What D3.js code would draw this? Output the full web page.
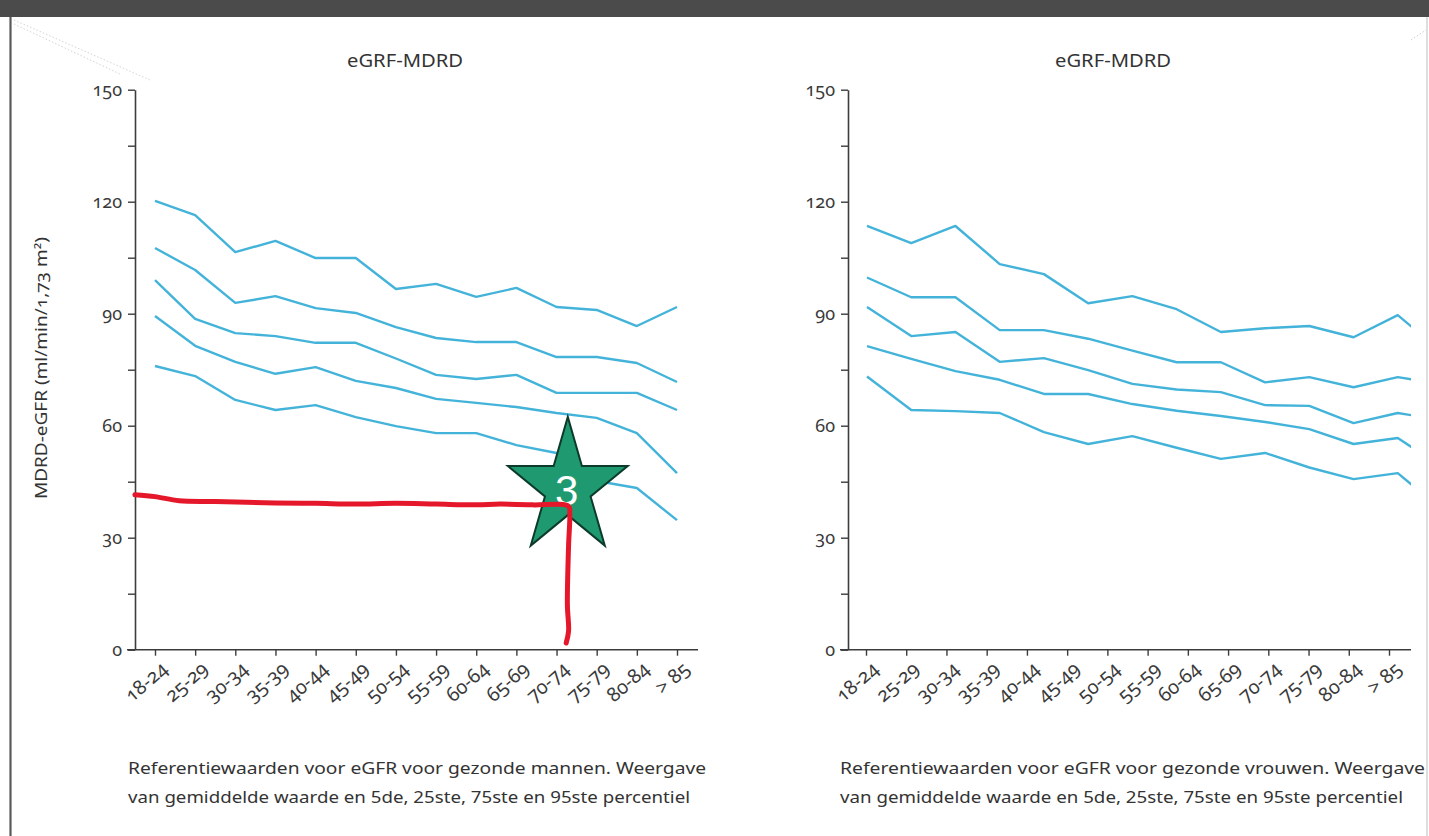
<!DOCTYPE html>
<html>
<head>
<meta charset="utf-8">
<script src="https://cdn.jsdelivr.net/npm/d3@7"></script>
<style>
  html, body { margin: 0; padding: 0; background: #fff; }
  svg { display: block; font-family: "Noto Sans", "Open Sans", sans-serif; }
  .num { font-variant-numeric: oldstyle-nums; font-feature-settings: "onum" 1; }
</style>
</head>
<body>
<svg id="chart" width="1429" height="836"></svg>
<script>
// Age groups (x categories) and y-axis ticks
const ageGroups = ["18-24","25-29","30-34","35-39","40-44","45-49","50-54",
                   "55-59","60-64","65-69","70-74","75-79","80-84","> 85"];
const yMajorTicks = [0, 30, 60, 90, 120, 150];
const yMinorTicks = [15, 45, 75, 105, 135];

// eGFR-MDRD reference values, healthy men (ml/min/1,73 m²)
const menP95  = [120.2, 116.4, 106.5, 109.5, 104.9, 104.9, 96.6, 98.0, 94.5, 96.9, 91.8, 91.0, 86.7, 91.8];
const menP75  = [107.6, 101.7, 92.9, 94.7, 91.5, 90.2, 86.4, 83.5, 82.4, 82.4, 78.4, 78.4, 76.8, 71.7];
const menMean = [99.0, 88.6, 84.8, 84.0, 82.2, 82.2, 78.0, 73.6, 72.5, 73.6, 68.8, 68.8, 68.8, 64.2];
const menP25  = [89.4, 81.4, 77.1, 73.9, 75.7, 72.0, 70.1, 67.2, 66.1, 65.0, 63.4, 62.1, 58.0, 47.3];
const menP5   = [76.0, 73.3, 66.9, 64.2, 65.5, 62.3, 59.9, 58.0, 58.0, 54.8, 52.7, 45.2, 43.3, 34.7];

// eGFR-MDRD reference values, healthy women
const womenP95  = [113.5, 108.9, 113.5, 103.3, 100.6, 92.8, 94.7, 91.2, 85.1, 86.1, 86.7, 83.7, 89.6, 79.7];
const womenP75  = [99.7, 94.4, 94.4, 85.6, 85.6, 83.3, 80.1, 77.0, 77.0, 71.6, 73.0, 70.3, 73.0, 71.1];
const womenMean = [91.8, 84.0, 85.1, 77.1, 78.1, 74.9, 71.2, 69.7, 69.0, 65.5, 65.3, 60.7, 63.4, 61.5];
const womenP25  = [81.3, 77.9, 74.6, 72.3, 68.5, 68.5, 65.8, 64.0, 62.6, 61.0, 59.1, 55.1, 56.7, 48.9];
const womenP5   = [73.2, 64.2, 63.9, 63.4, 58.3, 55.1, 57.2, 54.1, 51.1, 52.7, 48.8, 45.7, 47.3, 37.4];

// Hand-drawn reading line on the men's panel: [age index, eGFR]
const readingLine = [[-0.5, 41.5], [0, 41.0], [0.6, 39.9], [1.5, 39.7], [3, 39.3], [4, 39.2],
                     [5, 39.0], [6, 39.2], [7, 39.0], [8, 38.8], [8.6, 39.0], [9.4, 38.8],
                     [10.3, 38.4], [10.33, 36.5], [10.3, 28], [10.27, 12], [10.3, 5], [10.24, 1.8]];
const markerIndex = 10.28, markerValue = 43.3, markerLabel = "3";

const titleText = "eGRF-MDRD";
const yAxisLabel = "MDRD-eGFR (ml/min/1,73 m²)";
const captionMen = ["Referentiewaarden voor eGFR voor gezonde mannen. Weergave",
                    "van gemiddelde waarde en 5de, 25ste, 75ste en 95ste percentiel"];
const captionWomen = ["Referentiewaarden voor eGFR voor gezonde vrouwen. Weergave",
                      "van gemiddelde waarde en 5de, 25ste, 75ste en 95ste percentiel"];

const svg = d3.select("#chart");
const lineColor = "#44b3da";
const axisColor = "#3c3c3c";
const textColor = "#333";

// Page frame
svg.append("rect").attr("x", 0).attr("y", 0).attr("width", 1429).attr("height", 17).attr("fill", "#4b4b4b");
svg.append("line").attr("x1", 10.5).attr("x2", 10.5).attr("y1", 17).attr("y2", 836)
   .attr("stroke", "#5a5a5a").attr("stroke-width", 2.2);
svg.append("line").attr("x1", 1427).attr("x2", 1427).attr("y1", 17).attr("y2", 836)
   .attr("stroke", "#bdbdbd").attr("stroke-width", 1);
[[14, 20, 150, 80], [14, 24, 120, 74]].forEach(([x1, y1, x2, y2]) =>
  svg.append("line").attr("x1", x1).attr("y1", y1).attr("x2", x2).attr("y2", y2)
     .attr("stroke", "#d4d4d4").attr("stroke-width", 1).attr("stroke-dasharray", "1.5,2"));
svg.append("line").attr("x1", 1411).attr("y1", 40).attr("x2", 1426).attr("y2", 30)
   .attr("stroke", "#cfcfcf").attr("stroke-width", 1).attr("stroke-dasharray", "1.5,2");

const y = d3.scaleLinear().domain([0, 150]).range([649.7, 89.7]);

function drawPanel(cfg) {
  const g = svg.append("g");
  const xTick = d3.scalePoint().domain(ageGroups).range(cfg.tickRange);
  const xLine = d3.scalePoint().domain(ageGroups).range(cfg.lineRange);

  // Title
  g.append("text").attr("x", cfg.titleX).attr("y", 67).attr("text-anchor", "middle")
    .attr("font-size", 17.5).attr("fill", textColor)
    .attr("textLength", 116).attr("lengthAdjust", "spacingAndGlyphs").text(titleText);

  // Y axis
  const yAxis = d3.axisLeft(y)
    .tickValues(yMajorTicks.concat(yMinorTicks).sort(d3.ascending))
    .tickSize(7).tickSizeOuter(0).tickPadding(6)
    .tickFormat(d => yMajorTicks.includes(d) ? d : "");
  const ya = g.append("g").attr("transform", `translate(${cfg.axisX},0)`).call(yAxis);
  ya.attr("font-size", null).attr("font-family", null);
  ya.select(".domain").attr("stroke", axisColor).attr("stroke-width", 1.6);
  ya.selectAll(".tick line").attr("stroke", axisColor).attr("stroke-width", 1.4);
  ya.selectAll(".tick text").attr("class", "num").style("font-size", "18px")
    .style("font-family", "'Noto Sans', sans-serif").attr("fill", "#3a3a3a");

  // X baseline (extends left to meet the 0 tick)
  g.append("line").attr("x1", cfg.axisX - 8).attr("x2", cfg.axisEnd)
    .attr("y1", y(0)).attr("y2", y(0)).attr("stroke", axisColor).attr("stroke-width", 1.6);

  // X axis ticks and rotated labels
  const xAxis = d3.axisBottom(xTick).tickSize(6).tickSizeOuter(0);
  const xa = g.append("g").attr("transform", `translate(0,${y(0)})`).call(xAxis);
  xa.attr("font-size", null).attr("font-family", null);
  xa.select(".domain").remove();
  xa.selectAll(".tick line").attr("stroke", axisColor).attr("stroke-width", 1.4);
  xa.selectAll(".tick text").attr("class", "num")
    .style("font-size", "19.5px").style("font-family", "'Noto Sans', sans-serif").attr("fill", "#3a3a3a")
    .attr("text-anchor", "end").attr("x", 0).attr("y", 0).attr("dy", "0.35em")
    .attr("transform", "translate(9,16) rotate(-41)");

  // Percentile / mean lines
  const clipId = "clip-" + cfg.id;
  svg.append("defs").append("clipPath").attr("id", clipId)
    .append("rect").attr("x", cfg.axisX).attr("y", 0)
    .attr("width", cfg.axisEnd - cfg.axisX).attr("height", y(0));
  const line = d3.line().x((d, i) => xLine(ageGroups[i])).y(d => y(d));
  g.append("g").attr("clip-path", `url(#${clipId})`)
    .selectAll("path").data(cfg.series).join("path")
    .attr("d", line).attr("fill", "none").attr("stroke", lineColor)
    .attr("stroke-width", 2.4).attr("stroke-linejoin", "round");

  // Caption below the panel
  cfg.caption.forEach((t, i) => {
    g.append("text").attr("x", cfg.captionX).attr("y", 774 + i * 29)
      .attr("font-size", 17).attr("fill", textColor)
      .attr("textLength", cfg.captionWidths[i]).attr("lengthAdjust", "spacingAndGlyphs")
      .text(t);
  });
  return { g, xTick, xLine };
}

drawPanel({
  id: "men", axisX: 135, axisEnd: 698, tickRange: [155, 677], lineRange: [155, 677],
  titleX: 405, series: [menP95, menP75, menMean, menP25, menP5],
  caption: captionMen, captionX: 128, captionWidths: [578, 562]
});
drawPanel({
  id: "women", axisX: 848, axisEnd: 1411, tickRange: [866, 1389], lineRange: [867, 1442],
  titleX: 1113, series: [womenP95, womenP75, womenMean, womenP25, womenP5],
  caption: captionWomen, captionX: 840, captionWidths: [585, 563]
});

// Y axis title (left panel)
svg.append("text").attr("transform", "translate(47,368) rotate(-90)")
  .attr("text-anchor", "middle").attr("font-size", 15.5).attr("fill", textColor)
  .attr("textLength", 262).attr("lengthAdjust", "spacingAndGlyphs")
  .attr("class", "num").text(yAxisLabel);

// Annotation on the men's panel: star marker and reading line
const step = (677 - 155) / (ageGroups.length - 1);
const xIdx = i => 155 + i * step;
const cx = xIdx(markerIndex), cy = y(markerValue);
const outerR = 63, innerR = 24, stretch = 1.13;
const starPts = d3.range(10).map(k => {
  const r = k % 2 === 0 ? outerR : innerR;
  const a = k * Math.PI / 5;
  return [cx + r * Math.sin(a), cy - r * Math.cos(a) * stretch];
});
svg.append("polygon").attr("points", starPts.map(p => p.join(",")).join(" "))
  .attr("fill", "#1f9a70").attr("stroke", "#0d3b2b").attr("stroke-width", 2)
  .attr("stroke-linejoin", "miter");
svg.append("text").attr("x", cx - 1).attr("y", cy + 17).attr("text-anchor", "middle")
  .attr("font-family", "'Liberation Sans', sans-serif").attr("font-size", 42)
  .attr("fill", "#ffffff").text(markerLabel);

const readLine = d3.line().x(d => xIdx(d[0])).y(d => y(d[1])).curve(d3.curveCatmullRom.alpha(0.5));
svg.append("path").attr("d", readLine(readingLine)).attr("fill", "none")
  .attr("stroke", "#e5182b").attr("stroke-width", 5)
  .attr("stroke-linecap", "round").attr("stroke-linejoin", "round");
</script>
</body>
</html>
